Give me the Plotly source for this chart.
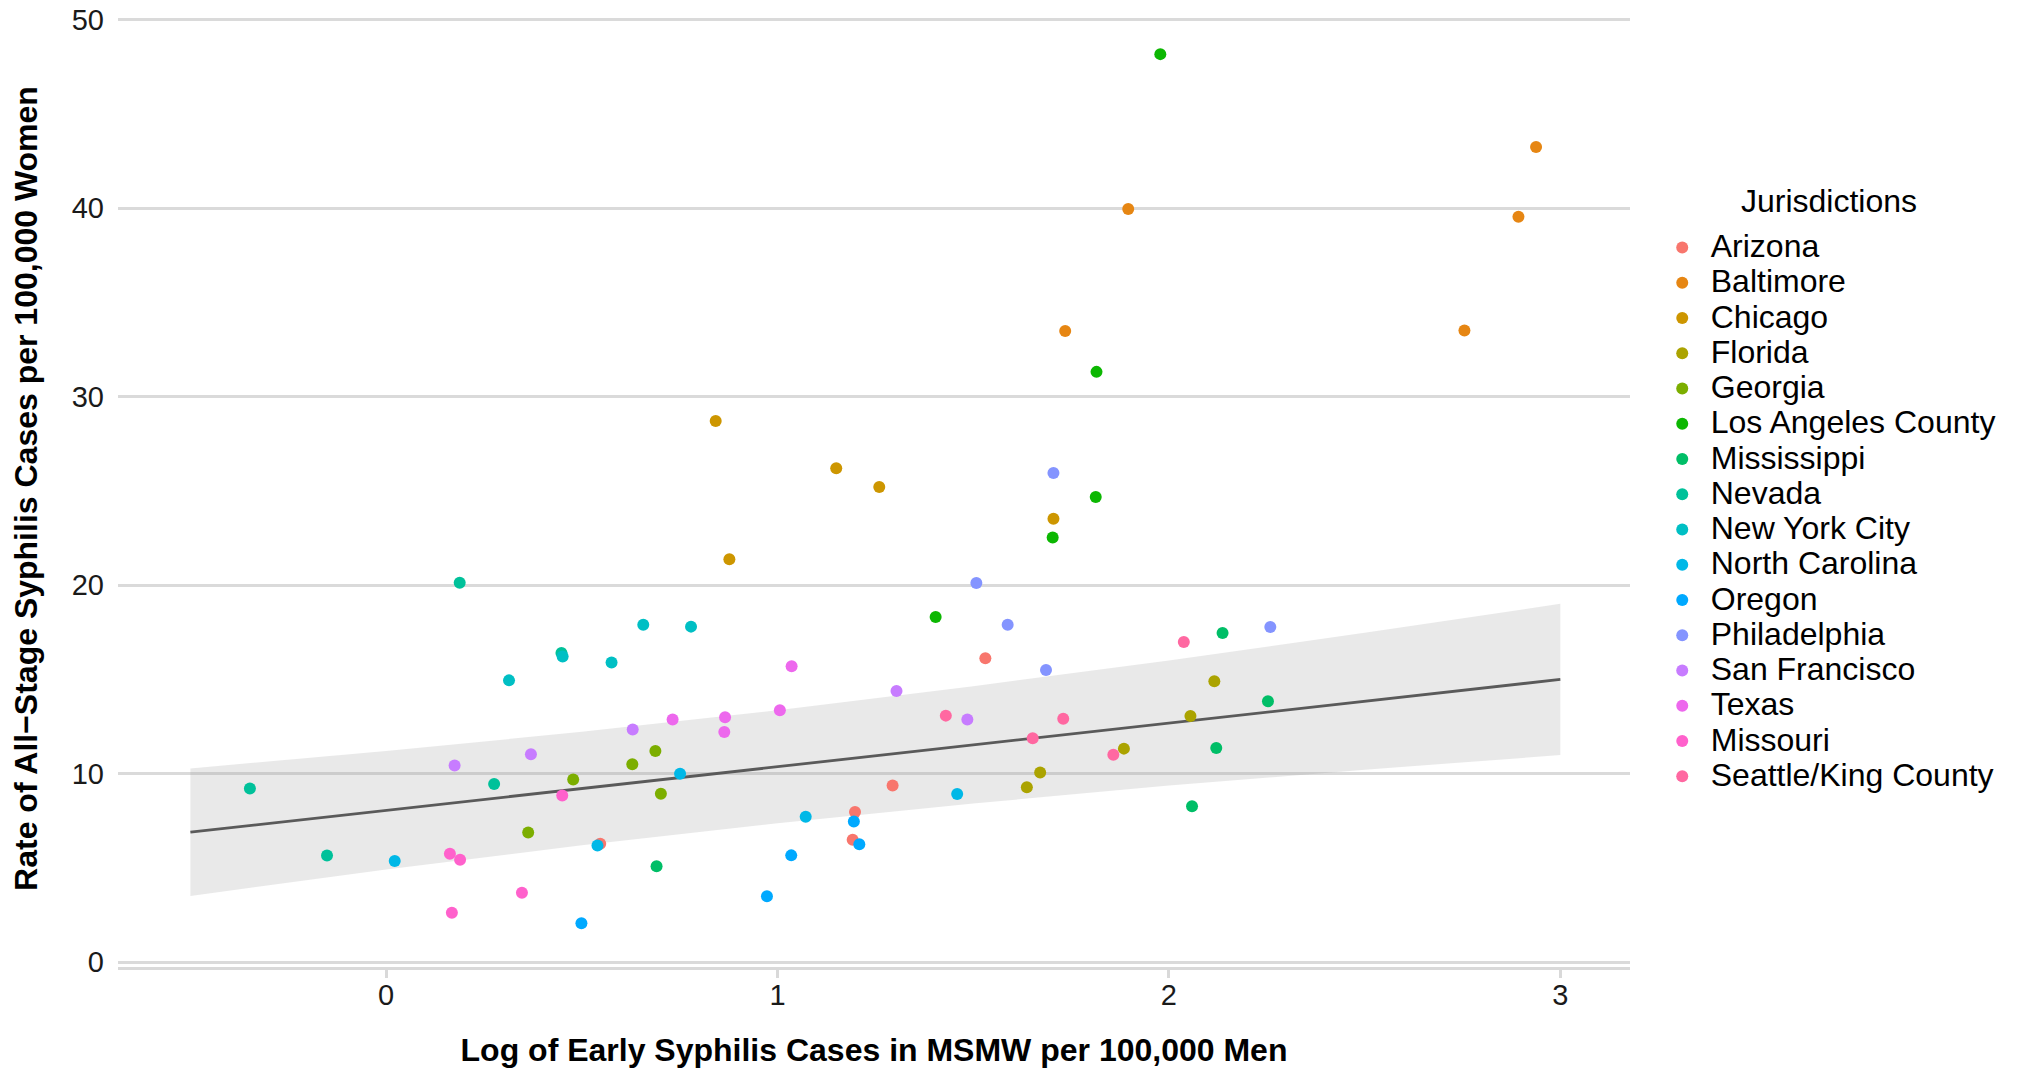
import plotly.graph_objects as go

JURISDICTIONS = ["Arizona", "Baltimore", "Chicago", "Florida", "Georgia",
                 "Los Angeles County", "Mississippi", "Nevada", "New York City",
                 "North Carolina", "Oregon", "Philadelphia", "San Francisco",
                 "Texas", "Missouri", "Seattle/King County"]

COLORS = ["#F8766D", "#E68613", "#CD9600", "#ABA300", "#7CAE00", "#0CB702",
          "#00BE67", "#00C19A", "#00BFC4", "#00B8E7", "#00A9FF", "#8494FF",
          "#C77CFF", "#ED68ED", "#FF61CC", "#FF68A1"]

point_jur = (["Arizona"] * 5 + ["Baltimore"] * 5 + ["Chicago"] * 5 + ["Florida"] * 5 +
             ["Georgia"] * 5 + ["Los Angeles County"] * 5 + ["Mississippi"] * 5 +
             ["Nevada"] * 5 + ["New York City"] * 5 + ["North Carolina"] * 5 +
             ["Oregon"] * 5 + ["Philadelphia"] * 5 + ["San Francisco"] * 5 +
             ["Texas"] * 5 + ["Missouri"] * 5 + ["Seattle/King County"] * 5)

point_x = [1.531, 1.294, 1.198, 1.192, 0.547,
           2.938, 1.896, 2.893, 1.735, 2.755,
           0.842, 1.150, 1.260, 1.705, 0.877,
           2.116, 2.055, 1.885, 1.671, 1.637,
           0.688, 0.629, 0.478, 0.702, 0.363,
           1.978, 1.815, 1.813, 1.703, 1.404,
           2.137, 2.253, 2.121, 2.059, 0.691,
           0.188, 0.448, 0.276, -0.348, -0.151,
           0.657, 0.779, 0.576, 0.314, 0.451,
           0.751, 1.072, 1.459, 0.540, 0.022,
           1.195, 1.209, 1.035, 0.973, 0.499,
           1.705, 1.508, 1.588, 2.259, 1.686,
           1.304, 1.485, 0.630, 0.370, 0.175,
           1.036, 1.006, 0.866, 0.732, 0.864,
           0.450, 0.163, 0.189, 0.347, 0.168,
           2.038, 1.430, 1.730, 1.652, 1.858]

point_y = [16.12, 9.38, 7.97, 6.50, 6.29,
           43.24, 39.95, 39.54, 33.48, 33.50,
           28.71, 26.20, 25.21, 23.52, 21.37,
           14.90, 13.06, 11.33, 10.07, 9.28,
           11.20, 10.50, 9.69, 8.94, 6.88,
           48.16, 31.31, 24.67, 22.53, 18.31,
           17.46, 13.84, 11.36, 8.27, 5.09,
           20.13, 16.40, 9.45, 9.21, 5.66,
           17.90, 17.80, 15.90, 14.95, 16.22,
           10.00, 7.72, 8.92, 6.19, 5.37,
           7.47, 6.26, 5.67, 3.50, 2.07,
           25.95, 20.11, 17.90, 17.78, 15.50,
           14.39, 12.88, 12.34, 11.03, 10.43,
           15.70, 13.36, 13.00, 12.87, 12.21,
           8.84, 5.76, 5.44, 3.69, 2.63,
           16.98, 13.08, 12.92, 11.88, 11.01]

# linear fit and its confidence band
fit_x = [-0.5, 0.0, 0.5, 1.0, 1.5, 2.0, 2.5, 3.0]
fit_mid = [6.90, 8.06, 9.21, 10.37, 11.53, 12.69, 13.84, 15.00]
fit_hi = [10.28, 11.20, 12.22, 13.37, 14.64, 16.01, 17.47, 19.01]
fit_lo = [3.52, 4.92, 6.20, 7.37, 8.42, 9.37, 10.21, 10.99]

X_TICKS = [0, 1, 2, 3]
Y_TICKS = [0, 10, 20, 30, 40, 50]

FONT = "Liberation Sans, Arial, sans-serif"

fig = go.Figure()

fig.add_trace(go.Scatter(x=fit_x + fit_x[::-1], y=fit_hi + fit_lo[::-1],
                         fill="toself", fillcolor="rgba(153,153,153,0.22)",
                         line=dict(width=0), mode="lines", showlegend=False,
                         hoverinfo="skip"))
fig.add_trace(go.Scatter(x=fit_x, y=fit_mid, mode="lines",
                         line=dict(color="#5A5A5A", width=2.8),
                         showlegend=False, hoverinfo="skip"))

for j, c in zip(JURISDICTIONS, COLORS):
    xs = [x for x, n in zip(point_x, point_jur) if n == j]
    ys = [y for y, n in zip(point_y, point_jur) if n == j]
    fig.add_trace(go.Scatter(
        x=xs, y=ys, mode="markers",
        marker=dict(color=c, size=12, line=dict(width=0)),
        name='<span style="font-size:32px">' + j + '</span>',
        hovertext=j))

fig.update_layout(
    width=2017, height=1070,
    margin=dict(l=118, r=387, t=10, b=103, autoexpand=False),
    paper_bgcolor="white", plot_bgcolor="white",
    font=dict(family=FONT, color="#000000"),
    legend=dict(
        font=dict(size=24.8, family=FONT, color="#000000"),
        x=1.0157, xanchor="left", y=0.4755, yanchor="middle",
        bgcolor="rgba(0,0,0,0)", itemwidth=47,
    ),
    annotations=[dict(
        text="Jurisdictions", xref="paper", yref="paper",
        x=1.1316, y=0.8004, xanchor="center", yanchor="middle",
        showarrow=False, font=dict(size=32, family=FONT, color="#000000"))],
)

fig.update_xaxes(
    range=[-0.685, 3.178], tickvals=X_TICKS, ticktext=[str(t) for t in X_TICKS],
    showgrid=False, zeroline=False, automargin=False,
    showline=True, linecolor="#D9D9D9", linewidth=2.5,
    ticks="outside", ticklen=8, tickwidth=2.5, tickcolor="#D9D9D9",
    ticklabelstandoff=-8, ticklabeloverflow="allow",
    tickfont=dict(size=29, family=FONT, color="#1A1A1A"),
    title=dict(text="<b>Log of Early Syphilis Cases in MSMW per 100,000 Men</b>",
               font=dict(size=32, family=FONT, color="#000000"), standoff=30),
)
fig.update_yaxes(
    range=[-0.25, 50.5], tickvals=Y_TICKS, ticktext=[str(t) for t in Y_TICKS],
    showgrid=True, gridcolor="#DADADA", gridwidth=2.5, zeroline=False,
    showline=False, ticks="", ticklabelstandoff=13, automargin=False,
    ticklabeloverflow="allow",
    tickfont=dict(size=29, family=FONT, color="#1A1A1A"),
    title=dict(text="<b>Rate of All\u2212Stage Syphilis Cases per 100,000 Women</b>",
               font=dict(size=32, family=FONT, color="#000000"), standoff=24),
)

# remove the default page margin so the figure sits at the window's corner
fig.write_html("out.html", config={"displayModeBar": False},
               post_script="document.body.style.margin='0';document.body.style.padding='0';")
